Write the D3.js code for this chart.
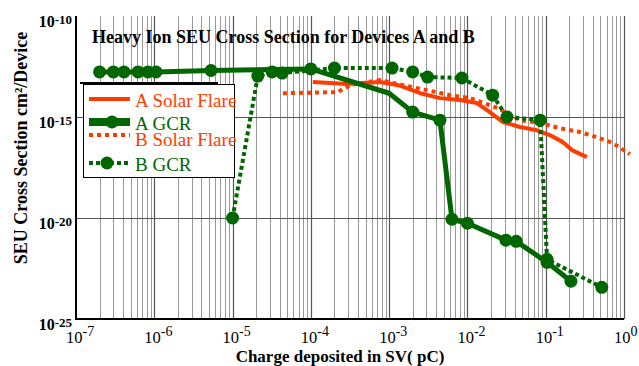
<!DOCTYPE html>
<html>
<head>
<meta charset="utf-8">
<script src="https://cdn.jsdelivr.net/npm/d3@7"></script>
<style>
  body { margin: 0; background: #fff; }
  svg { display: block; }
</style>
</head>
<body>
<svg id="chart" width="639" height="366" font-family="'Liberation Serif', 'Times New Roman', Times, 'DejaVu Serif', serif"></svg>
<script>
// tick labels (exponents of 10)
const xTickExp = [-7, -6, -5, -4, -3, -2, -1, 0];
const yTickExp = [-10, -15, -20, -25];

// A Solar Flare (solid red)
const aSolarX = [1.06e-4, 2.9e-4, 7.6e-4, 1.37e-3, 2.5e-3, 4.45e-3, 8.0e-3, 1.32e-2, 1.78e-2, 2.85e-2, 4.7e-2, 7.7e-2, 0.113, 0.166, 0.216, 0.336];
const aSolarY = [5.4e-14, 4.3e-14, 5.4e-14, 3.6e-14, 1.5e-14, 8.6e-15, 6.9e-15, 4.9e-15, 2.2e-15, 5.6e-16, 3.2e-16, 2.2e-16, 1.27e-16, 5.7e-17, 2.3e-17, 1.03e-17];

// B Solar Flare (dotted red)
const bSolarX = [4.4e-5, 2.2e-4, 3.2e-4, 7.6e-4, 1.5e-3, 3.0e-3, 6.0e-3, 1.08e-2, 2.4e-2, 4.7e-2, 8.5e-2, 0.152, 0.274, 0.45, 0.72, 1.19];
const bSolarY = [1.5e-14, 1.7e-14, 3.8e-14, 6.7e-14, 3.8e-14, 2.15e-14, 1.2e-14, 8.6e-15, 2.8e-15, 7e-16, 5e-16, 2.8e-16, 1.8e-16, 1.0e-16, 5.1e-17, 1.45e-17];

// A GCR (solid green, markers)
const aGcrX = [2.0e-7, 3.0e-7, 4.1e-7, 6.2e-7, 8.3e-7, 1.05e-6, 5.3e-6, 1.0e-4, 1.0e-3, 2.0e-3, 4.45e-3, 6.35e-3, 1.0e-2, 3.1e-2, 4.2e-2, 0.104, 0.21];
const aGcrY = [1.7e-13, 1.7e-13, 1.7e-13, 1.7e-13, 1.7e-13, 1.7e-13, 2.0e-13, 2.4e-13, 1.5e-14, 1.75e-15, 7e-16, 8.7e-21, 5.5e-21, 8e-22, 7e-22, 6.4e-23, 7.4e-24];
const aGcrNoMarker = [8]; // bend with no marker

// B GCR (dotted green, markers)
const bGcrX = [1.0e-5, 2.1e-5, 3.2e-5, 4.3e-5, 2.0e-4, 1.09e-3, 2.0e-3, 3.1e-3, 8.5e-3, 2.1e-2, 3.2e-2, 8.5e-2, 0.104, 0.52];
const bGcrY = [1e-20, 1.06e-13, 1.7e-13, 1.5e-13, 2.65e-13, 2.65e-13, 1.7e-13, 9.5e-14, 8.5e-14, 1.2e-14, 1e-15, 7e-16, 9e-23, 3.7e-24];

const legendNames = ['A Solar Flare', 'A GCR', 'B Solar Flare', 'B GCR'];

const RED = '#ff3c00';
const GREEN = '#006600';

const svg = d3.select('#chart');
const pLeft = 76, pRight = 624, pTop = 16, pBottom = 319;

const x = d3.scaleLog().domain([1e-7, 1]).range([pLeft, pRight]);
const y = d3.scaleLog().domain([1e-25, 1e-10]).range([pBottom, pTop]);

// vertical grid: minor then decades
const minor = [];
for (let e = -7; e < 0; e++) {
  for (let k = 2; k <= 9; k++) minor.push(k * Math.pow(10, e));
}
svg.append('g').selectAll('line').data(minor).enter().append('line')
  .attr('x1', d => Math.round(x(d)) + 0.5).attr('x2', d => Math.round(x(d)) + 0.5)
  .attr('y1', pTop).attr('y2', pBottom)
  .attr('stroke', '#999').attr('stroke-width', 1);

svg.append('g').selectAll('line').data(xTickExp.slice(1)).enter().append('line')
  .attr('x1', d => Math.round(x(Math.pow(10, d))) + 0.5).attr('x2', d => Math.round(x(Math.pow(10, d))) + 0.5)
  .attr('y1', pTop).attr('y2', pBottom)
  .attr('stroke', '#555').attr('stroke-width', 1.2);

// horizontal grid at every fifth decade
svg.append('g').selectAll('line').data([-15, -20]).enter().append('line')
  .attr('x1', pLeft).attr('x2', pRight)
  .attr('y1', d => Math.round(y(Math.pow(10, d))) + 0.5).attr('y2', d => Math.round(y(Math.pow(10, d))) + 0.5)
  .attr('stroke', '#555').attr('stroke-width', 1.2);

// axes lines
svg.append('line').attr('x1', pLeft).attr('x2', pLeft).attr('y1', pTop).attr('y2', pBottom + 1)
  .attr('stroke', '#000').attr('stroke-width', 2);
svg.append('line').attr('x1', pLeft - 1).attr('x2', pRight).attr('y1', pBottom).attr('y2', pBottom)
  .attr('stroke', '#000').attr('stroke-width', 2);

// tick labels
const yl = svg.append('g').selectAll('text').data(yTickExp).enter().append('text')
  .attr('x', 72).attr('y', d => y(Math.pow(10, d)) + 11)
  .attr('text-anchor', 'end').attr('font-weight', 'bold').attr('font-size', 16);
yl.append('tspan').text('10');
yl.append('tspan').attr('dy', -3).attr('font-size', 13).text(d => d);

const xl = svg.append('g').selectAll('text').data(xTickExp).enter().append('text')
  .attr('x', d => x(Math.pow(10, d)) - 10).attr('y', 343)
  .attr('font-size', 16.5);
xl.append('tspan').text('10');
xl.append('tspan').attr('dy', -7).attr('font-size', 14).text(d => d);

// title & axis titles
svg.append('text').attr('x', 92).attr('y', 43)
  .attr('font-weight', 'bold').attr('font-size', 18)
  .text('Heavy Ion SEU Cross Section for Devices A and B');

svg.append('text').attr('transform', 'translate(27,148) rotate(-90)')
  .attr('text-anchor', 'middle').attr('font-weight', 'bold').attr('font-size', 18)
  .text('SEU Cross Section cm²/Device');

svg.append('text').attr('x', 340).attr('y', 362)
  .attr('text-anchor', 'middle').attr('font-weight', 'bold').attr('font-size', 17)
  .text('Charge deposited in SV( pC)');

// series
const line = d3.line().x(d => x(d[0])).y(d => y(d[1]));
const zip = (a, b) => a.map((v, i) => [v, b[i]]);

const plot = svg.append('g');
plot.append('path').datum(zip(aSolarX, aSolarY)).attr('d', line)
  .attr('fill', 'none').attr('stroke', RED).attr('stroke-width', 4).attr('stroke-linejoin', 'round');
plot.append('path').datum(zip(bSolarX, bSolarY)).attr('d', line)
  .attr('fill', 'none').attr('stroke', RED).attr('stroke-width', 4).attr('stroke-dasharray', '4,4');

plot.append('path').datum(zip(aGcrX, aGcrY)).attr('d', line)
  .attr('fill', 'none').attr('stroke', GREEN).attr('stroke-width', 5).attr('stroke-linejoin', 'round');
plot.append('g').selectAll('circle')
  .data(zip(aGcrX, aGcrY).filter((d, i) => !aGcrNoMarker.includes(i)))
  .enter().append('circle')
  .attr('cx', d => x(d[0])).attr('cy', d => y(d[1])).attr('r', 6.5).attr('fill', GREEN);

plot.append('path').datum(zip(bGcrX, bGcrY)).attr('d', line)
  .attr('fill', 'none').attr('stroke', GREEN).attr('stroke-width', 4).attr('stroke-dasharray', '4,3');
plot.append('g').selectAll('circle').data(zip(bGcrX, bGcrY)).enter().append('circle')
  .attr('cx', d => x(d[0])).attr('cy', d => y(d[1])).attr('r', 6.5).attr('fill', GREEN);

// legend
const lg = svg.append('g');
lg.append('rect').attr('x', 83.5).attr('y', 84.5).attr('width', 151).attr('height', 93)
  .attr('fill', '#fff').attr('stroke', '#000').attr('stroke-width', 1);
lg.append('line').attr('x1', 80).attr('x2', 218).attr('y1', 83).attr('y2', 83)
  .attr('stroke', '#000').attr('stroke-width', 2);

const legendStyle = [
  { color: RED, width: 4, dash: null, marker: false, ly: 99, ty: 107 },
  { color: GREEN, width: 8, dash: null, marker: true, ly: 122, ty: 130 },
  { color: RED, width: 4, dash: '4,4', marker: false, ly: 135, ty: 146 },
  { color: GREEN, width: 4, dash: '4,3', marker: true, ly: 163, ty: 171 }
];
legendNames.forEach((name, i) => {
  const s = legendStyle[i];
  lg.append('line').attr('x1', 89).attr('x2', 130).attr('y1', s.ly).attr('y2', s.ly)
    .attr('stroke', s.color).attr('stroke-width', s.width).attr('stroke-dasharray', s.dash);
  if (s.marker) {
    lg.append('circle').attr('cx', i === 1 ? 112 : 107).attr('cy', s.ly).attr('r', 6.5).attr('fill', s.color);
  }
  lg.append('text').attr('x', 135).attr('y', s.ty)
    .attr('font-size', 19).attr('fill', s.color).text(name);
});
</script>
</body>
</html>
